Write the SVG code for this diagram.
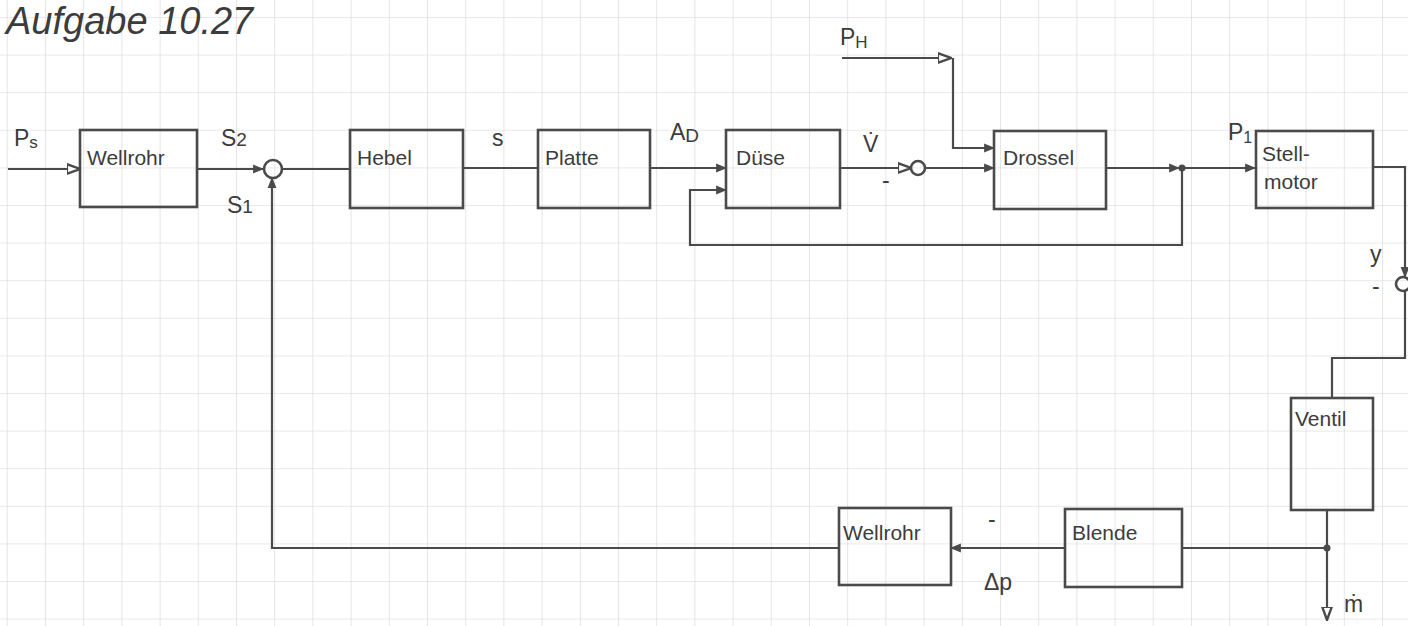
<svg xmlns="http://www.w3.org/2000/svg" width="1408" height="626" viewBox="0 0 1408 626">
<defs>
<pattern id="grid" patternUnits="userSpaceOnUse" x="6.8" y="17" width="38.2" height="37.6">
<path d="M0,0 H38.2 M0,0 V37.6" fill="none" stroke="#d4d4d4" stroke-width="1.2"/>
</pattern>
<marker id="arr" viewBox="0 0 10 10" refX="9" refY="5" markerWidth="5" markerHeight="5" orient="auto" markerUnits="strokeWidth">
<path d="M0,1 L10,5 L0,9 Z" fill="#4a4a4a"/>
</marker>
<marker id="arro" viewBox="0 0 12 10" refX="11" refY="5" markerWidth="6.5" markerHeight="5.5" orient="auto" markerUnits="strokeWidth">
<path d="M0,1 L11,5 L0,9 Z" fill="#ffffff" stroke="#4a4a4a" stroke-width="2"/>
</marker>
</defs>
<style>
.box{fill:none;stroke:#4a4a4a;stroke-width:2.6}
.ln{fill:none;stroke:#4a4a4a;stroke-width:2.2}
.t{font-family:"Liberation Sans",Arial,sans-serif;fill:#3c3c3c;font-size:21px}
.lb{font-family:"Liberation Sans",Arial,sans-serif;fill:#3c3c3c;font-size:23px}
.title{font-family:"Liberation Sans",Arial,sans-serif;fill:#3c3c3c;font-size:38px;font-style:italic}
</style>
<rect width="1408" height="626" fill="#ffffff"/>
<rect width="1408" height="626" fill="url(#grid)"/>
<text class="title" x="6" y="34">Aufgabe 10.27</text>

<g id="connectors">
<path class="ln" d="M8,169 H80" marker-end="url(#arro)"/>
<path class="ln" d="M197,169 H263" marker-end="url(#arr)"/>
<path class="ln" d="M282,169 H350"/>
<path class="ln" d="M463,168 H538"/>
<path class="ln" d="M650,168 H726" marker-end="url(#arr)"/>
<path class="ln" d="M840,168 H911" marker-end="url(#arro)"/>
<path class="ln" d="M925,168 H994" marker-end="url(#arr)"/>
<path class="ln" d="M842,58 H951" marker-end="url(#arro)"/>
<path class="ln" d="M953,58 V148 H994" marker-end="url(#arr)"/>
<path class="ln" d="M1106,168 H1179" marker-end="url(#arr)"/>
<path class="ln" d="M1182,168 H1255" marker-end="url(#arr)"/>
<path class="ln" d="M1182,168 V245 H690 V190 H726" marker-end="url(#arr)"/>
<path class="ln" d="M1373,167 H1405 V277" marker-end="url(#arr)"/>
<path class="ln" d="M1405,291 V358 H1332 V398"/>
<path class="ln" d="M1327,510 V620" marker-end="url(#arro)"/>
<path class="ln" d="M1327,548 H1182"/>
<path class="ln" d="M1065,548 H951" marker-end="url(#arr)"/>
<path class="ln" d="M839,548 H272 V178" marker-end="url(#arr)"/>
<circle cx="1182" cy="168" r="3.5" fill="#4a4a4a"/>
<circle cx="1327" cy="548" r="3.5" fill="#4a4a4a"/>
</g>

<g id="sum1"><circle class="box" cx="273" cy="169" r="9" fill="#fff"/></g>
<g id="sum2"><circle class="box" cx="918" cy="168" r="7" fill="#fff"/></g>
<g id="sum3"><circle class="box" cx="1403" cy="284" r="7" fill="#fff"/></g>

<g id="wellrohr1"><rect class="box" x="80" y="130" width="117" height="77"/><text class="t" x="87" y="165">Wellrohr</text></g>
<g id="hebel"><rect class="box" x="350" y="130" width="113" height="78"/><text class="t" x="357" y="165">Hebel</text></g>
<g id="platte"><rect class="box" x="538" y="130" width="112" height="78"/><text class="t" x="545" y="165">Platte</text></g>
<g id="duese"><rect class="box" x="726" y="130" width="114" height="78"/><text class="t" x="736" y="165">Düse</text></g>
<g id="drossel"><rect class="box" x="994" y="131" width="112" height="78"/><text class="t" x="1003" y="165">Drossel</text></g>
<g id="stellmotor"><rect class="box" x="1256" y="131" width="117" height="77"/><text class="t" x="1262" y="161">Stell-</text><text class="t" x="1264" y="189">motor</text></g>
<g id="ventil"><rect class="box" x="1291" y="398" width="82" height="112"/><text class="t" x="1295" y="426">Ventil</text></g>
<g id="blende"><rect class="box" x="1065" y="509" width="117" height="78"/><text class="t" x="1072" y="540">Blende</text></g>
<g id="wellrohr2"><rect class="box" x="839" y="508" width="112" height="77"/><text class="t" x="843" y="540">Wellrohr</text></g>

<g id="labels">
<text class="lb" x="14" y="146">P<tspan font-size="17" dy="2">s</tspan></text>
<text class="lb" x="221" y="146">S<tspan font-size="19">2</tspan></text>
<text class="lb" x="227" y="213">S<tspan font-size="19">1</tspan></text>
<text class="lb" x="492" y="146">s</text>
<text class="lb" x="670" y="140">A<tspan font-size="19" dy="2">D</tspan></text>
<text class="lb" x="863" y="152">V&#775;</text>
<text class="lb" x="882" y="188">-</text>
<text class="lb" x="840" y="45">P<tspan font-size="17" dy="3">H</tspan></text>
<text class="lb" x="1228" y="140">P<tspan font-size="16" dy="3">1</tspan></text>
<text class="lb" x="1370" y="262">y</text>
<text class="lb" x="1372" y="294">-</text>
<text class="lb" x="988" y="527">-</text>
<text class="lb" x="984" y="590">Δp</text>
<text class="lb" x="1344" y="612">ṁ</text>
</g>
</svg>
